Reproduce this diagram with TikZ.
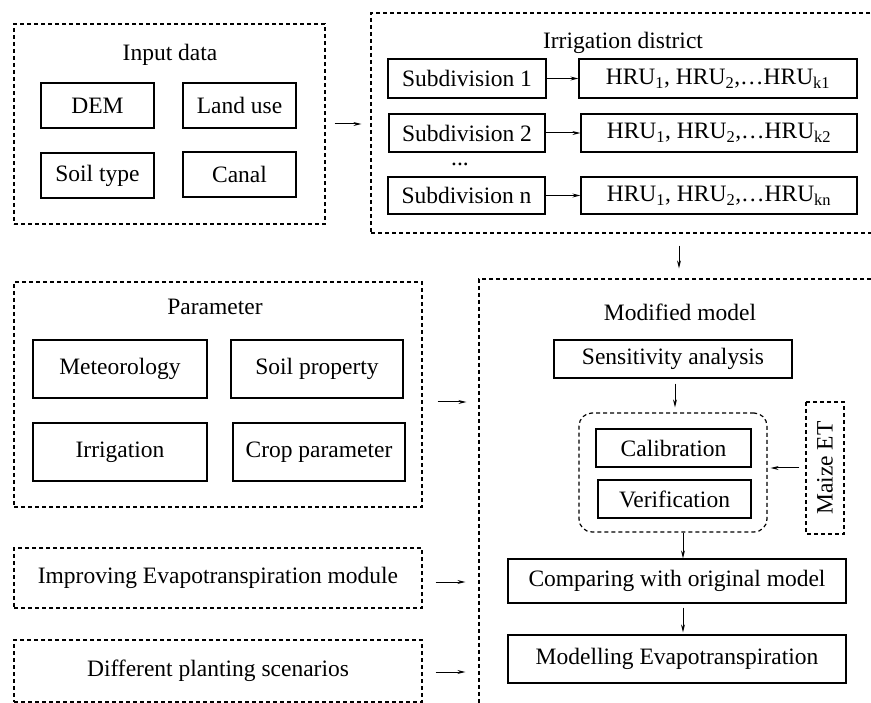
\documentclass[tikz,border=0pt]{standalone}
\usepackage{fontspec}
\setmainfont{Liberation Serif}
\usetikzlibrary{arrows.meta,calc}
\begin{document}
\begin{tikzpicture}[x=1pt,y=-1pt,
  every node/.style={font=\fontsize{23.5}{28}\selectfont, inner sep=0pt},
  solidbox/.style={draw, line width=1.2pt, rectangle},
  dashbox/.style={draw, line width=1.2pt, dash pattern=on 4pt off 3pt, rectangle},
  arr/.style={line width=1pt, -{Stealth[length=8pt,width=4pt]}},
  lbl/.style={anchor=center}]
\useasboundingbox (0,0) rectangle (871,703);
\clip (0,0) rectangle (871,703);
% ---------- Input data
\node[dashbox, minimum width=311pt, minimum height=200pt] (input) at (169.5,124) {};
\node[lbl] (inputT) at (170,55) {Input data};
\node[solidbox, minimum width=113pt, minimum height=45pt] (dem) at (97.5,105.5) {DEM};
\node[solidbox, minimum width=113pt, minimum height=45pt] (land) at (239.5,105.5) {Land use};
\node[solidbox, minimum width=113pt, minimum height=45pt] (soil) at (97.5,175.5) {Soil type};
\node[solidbox, minimum width=113pt, minimum height=45pt] (canal) at (239.5,174.5) {Canal};
% ---------- Irrigation district
\node[dashbox, minimum width=514pt, minimum height=220pt] (irr) at (628,123) {};
\node[lbl] (irrT) at (623,43) {Irrigation district};
\node[solidbox, minimum width=158pt, minimum height=39pt] (sub1) at (467,78.5) {Subdivision 1};
\node[solidbox, minimum width=278pt, minimum height=39pt] (hru1) at (718,78.5) {HRU\textsubscript{1}, HRU\textsubscript{2},\ldots HRU\textsubscript{k1}};
\node[solidbox, minimum width=156pt, minimum height=38pt] (sub2) at (467,133) {Subdivision 2};
\node[solidbox, minimum width=276pt, minimum height=38pt] (hru2) at (719,133) {HRU\textsubscript{1}, HRU\textsubscript{2},\ldots HRU\textsubscript{k2}};
\node[anchor=base] (dots) at (460,166) {...};
\node[solidbox, minimum width=157pt, minimum height=37pt] (subn) at (466.5,195.5) {Subdivision n};
\node[solidbox, minimum width=276pt, minimum height=37pt] (hrun) at (719,195.5) {HRU\textsubscript{1}, HRU\textsubscript{2},\ldots HRU\textsubscript{kn}};
\draw[arr] (sub1) -- (hru1);
\draw[arr] (sub2) -- (hru2);
\draw[arr] (subn) -- (hrun);
\draw[arr, shorten <=9pt, shorten >=9pt] (input.east) -- (input.east -| irr.west);
% ---------- Parameter
\node[dashbox, minimum width=408pt, minimum height=225pt] (param) at (218,394.5) {};
\node[lbl] (paramT) at (215,307) {Parameter};
\node[solidbox, minimum width=174pt, minimum height=58pt] (met) at (120,369) {Meteorology};
\node[solidbox, minimum width=172pt, minimum height=58pt] (soilp) at (317,369) {Soil property};
\node[solidbox, minimum width=174pt, minimum height=58pt] (irrg) at (120,452) {Irrigation};
\node[solidbox, minimum width=172pt, minimum height=58pt] (crop) at (319,452) {Crop parameter};
\node[dashbox, minimum width=408pt, minimum height=60pt] (impr) at (218,578) {Improving Evapotranspiration module};
\node[dashbox, minimum width=408pt, minimum height=62pt] (diff) at (218,671) {Different planting scenarios};
% ---------- Modified model
\node[dashbox, minimum width=406pt, minimum height=441pt] (mod) at (682,499.5) {};
\node[lbl] (modT) at (680,312) {Modified model};
\node[solidbox, minimum width=238pt, minimum height=38pt] (sens) at (673,359) {Sensitivity analysis};
\node[dashbox, rounded corners=13pt, minimum width=188pt, minimum height=119pt] (rbox) at (673,472.5) {};
\node[solidbox, minimum width=155pt, minimum height=38pt] (calib) at (673.5,448) {Calibration};
\node[solidbox, minimum width=153pt, minimum height=38pt] (verif) at (674.5,499) {Verification};
\node[dashbox, rotate=90, minimum width=132pt, minimum height=38pt] (maize) at (825,468) {Maize ET};
\node[solidbox, minimum width=338pt, minimum height=44pt] (comp) at (677,581) {Comparing with original model};
\node[solidbox, minimum width=338pt, minimum height=48pt] (modl) at (677,659) {Modelling Evapotranspiration};
\coordinate (xa) at (675,0);
\coordinate (xb) at (683,0);
\coordinate (xc) at (679,0);
\coordinate (ya) at (0,402);
\coordinate (yb) at (0,582);
\coordinate (yc) at (0,672);
\coordinate (ym) at (0,468);
\draw[arr, shorten <=5pt, shorten >=5pt] (sens.south -| xa) -- (rbox.north -| xa);
\draw[arr] (rbox.south -| xb) -- (comp.north -| xb);
\draw[arr, shorten <=4pt, shorten >=2pt] (comp.south -| xb) -- (modl.north -| xb);
\draw[arr, shorten <=6pt, shorten >=3pt] (maize.north |- ym) -- (rbox.east |- ym);
\draw[arr, shorten <=12pt, shorten >=10pt] (irr.south -| xc) -- (mod.north -| xc);
\draw[arr, shorten <=15pt, shorten >=12pt] (param.east |- ya) -- (mod.west |- ya);
\draw[arr, shorten <=13pt, shorten >=13pt] (impr.east |- yb) -- (mod.west |- yb);
\draw[arr, shorten <=13pt, shorten >=13pt] (diff.east |- yc) -- (mod.west |- yc);
\end{tikzpicture}
\end{document}
